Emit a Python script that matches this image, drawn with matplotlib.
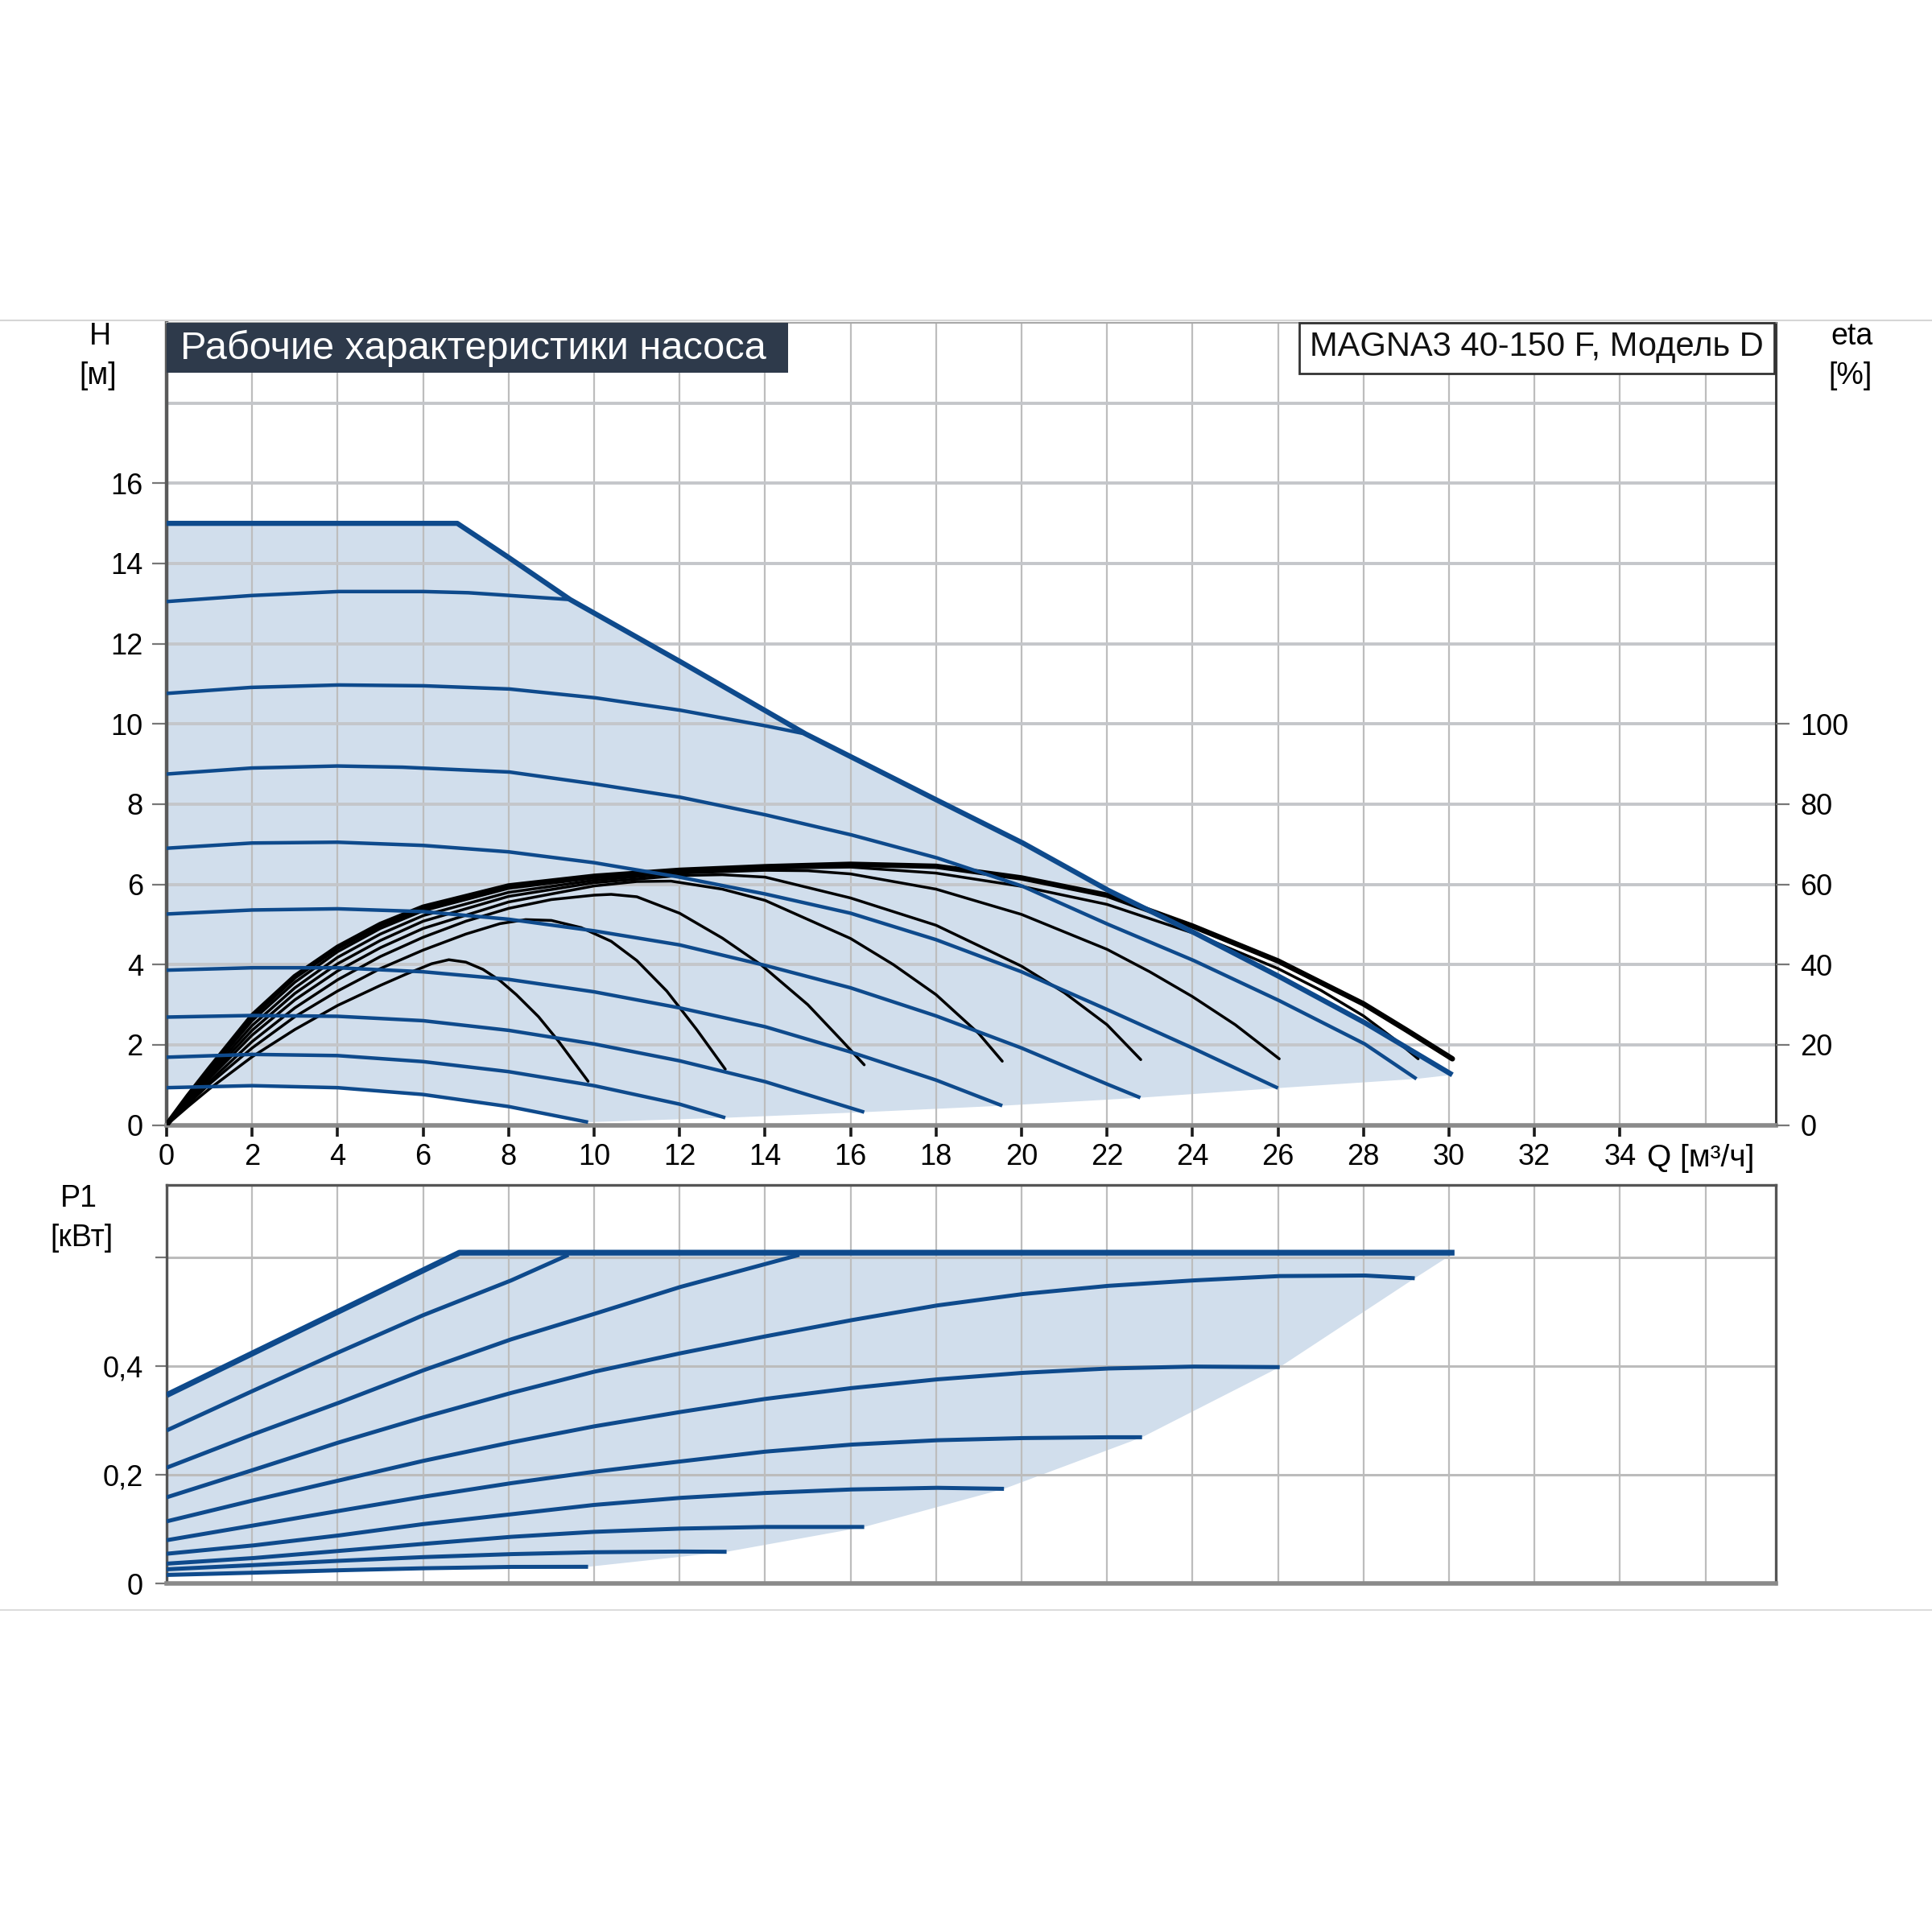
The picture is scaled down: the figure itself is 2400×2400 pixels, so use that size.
import matplotlib
matplotlib.use('Agg')
import matplotlib.pyplot as plt
from matplotlib.patches import Rectangle
from matplotlib.lines import Line2D

# ---------------- data ----------------
# Q-H curves: Q [m3/h], H [m]
q_c1 = [0, 6.8, 8.0, 9.44, 12.02, 14.95, 18.02, 20.03, 22.03, 24.03, 26.03, 28.03, 30.08]
h_c1 = [15.0, 15.0, 14.15, 13.1, 11.55, 9.75, 8.1, 7.03, 5.85, 4.8, 3.7, 2.55, 1.25]
q_c2 = [0, 1.98, 4.03, 6.01, 7.06, 8.05, 9.44]
h_c2 = [13.05, 13.2, 13.3, 13.3, 13.27, 13.2, 13.1]
q_c3 = [0, 1.98, 4.03, 6.01, 8.02, 10.03, 12.02, 14.02, 14.95]
h_c3 = [10.76, 10.91, 10.97, 10.95, 10.87, 10.65, 10.34, 9.95, 9.75]
q_c4 = [0, 2, 4, 5.52, 8.02, 10.03, 12.02, 14.02, 16.03, 18.02, 20.03, 22.03, 24.03, 26.03, 28.03, 29.24]
h_c4 = [8.75, 8.9, 8.95, 8.92, 8.8, 8.5, 8.17, 7.73, 7.23, 6.66, 5.95, 5.0, 4.1, 3.1, 2.02, 1.15]
q_c5 = [0, 2, 4, 6, 8, 10, 12, 14, 16, 18, 20, 22, 24, 26.0]
h_c5 = [6.9, 7.03, 7.05, 6.97, 6.81, 6.54, 6.18, 5.76, 5.28, 4.62, 3.82, 2.88, 1.92, 0.92]
q_c6 = [0, 2, 4, 6, 8, 10, 12, 14, 16, 18, 20, 22, 22.78]
h_c6 = [5.26, 5.36, 5.39, 5.32, 5.13, 4.84, 4.49, 3.98, 3.42, 2.72, 1.92, 1.02, 0.68]
q_c7 = [0, 2, 4, 6, 8, 10, 12, 14, 16, 18, 19.55]
h_c7 = [3.86, 3.92, 3.92, 3.82, 3.63, 3.32, 2.92, 2.45, 1.82, 1.12, 0.48]
q_c8 = [0, 2, 4, 6, 8, 10, 12, 14, 16.32]
h_c8 = [2.69, 2.73, 2.71, 2.6, 2.36, 2.02, 1.6, 1.08, 0.32]
q_c9 = [0, 2, 4, 6, 8, 10, 12, 13.07]
h_c9 = [1.69, 1.76, 1.73, 1.58, 1.33, 0.98, 0.52, 0.18]
q_c10 = [0, 2, 4, 6, 8, 9.86]
h_c10 = [0.93, 0.98, 0.93, 0.76, 0.46, 0.07]

# efficiency curves: Q [m3/h], eta [%]
q_e1 = [0, 0.5, 1, 2, 3, 4, 5, 6, 8, 10, 12, 14, 16, 18, 20, 22, 24, 26, 28, 29, 30.08]
e_e1 = [0, 7.2, 14, 27.2, 37, 44.3, 50, 54.3, 59.6, 62, 63.5, 64.4, 65, 64.5, 61.6, 57.3, 49.6, 40.9, 30.2, 23.7, 16.5]
q_e4 = [0, 0.5, 1, 2, 3, 4, 5, 6, 8, 10, 12, 14, 16, 18, 20, 22, 24, 26, 27, 28, 28.7, 29.28]
e_e4 = [0, 6.9, 13.4, 26, 35.6, 43.2, 49, 53.4, 59, 61.6, 63.2, 64, 64.3, 62.8, 59.5, 55, 47.9, 39, 33.6, 27.2, 21.6, 16.5]
q_e5 = [0, 0.5, 1, 2, 3, 4, 5, 6, 8, 10, 12, 14, 15, 16, 18, 20, 22, 23, 24, 25, 26.03]
e_e5 = [0, 6.6, 12.8, 24.8, 34.2, 41.8, 47.6, 52.2, 58, 61, 62.8, 63.5, 63.4, 62.6, 58.8, 52.5, 43.8, 38.2, 32, 25, 16.5]
q_e6 = [0, 0.5, 1, 2, 3, 4, 5, 6, 8, 10, 12, 13, 14, 16, 18, 20, 21, 22, 22.79]
e_e6 = [0, 6.3, 12.2, 23.6, 32.8, 40.2, 46, 50.8, 57, 60.4, 62.2, 62.4, 61.8, 56.6, 49.8, 39.6, 33, 25, 16.3]
q_e7 = [0, 0.5, 1, 2, 3, 4, 5, 6, 8, 10, 11, 11.8, 13, 14, 16, 17, 18, 19, 19.55]
e_e7 = [0, 6, 11.6, 22.4, 31.2, 38.4, 44.2, 49, 55.6, 59.6, 60.7, 60.8, 58.8, 56, 46.5, 40, 32.5, 22.8, 15.9]
q_e8 = [0, 0.5, 1, 2, 3, 4, 5, 6, 7, 8, 9, 10, 10.4, 11, 12, 13, 13.9, 15, 15.8, 16.32]
e_e8 = [0, 5.6, 10.8, 20.8, 29.2, 36.2, 42, 46.8, 50.8, 54, 56.2, 57.3, 57.5, 56.9, 52.8, 46.6, 40, 30, 21, 15]
q_e9 = [0, 0.5, 1, 2, 3, 4, 5, 6, 7, 7.8, 8.4, 9, 9.7, 10.4, 11, 11.7, 12.4, 13.07]
e_e9 = [0, 5.2, 10.2, 19.2, 27, 33.4, 39, 43.6, 47.6, 50.2, 51.2, 51, 49.2, 45.8, 41, 33.4, 23.8, 13.9]
q_e10 = [0, 0.5, 1, 2, 3, 4, 5, 5.6, 6.2, 6.6, 7.0, 7.4, 7.8, 8.18, 8.7, 9.16, 9.86]
e_e10 = [0, 4.6, 9, 17, 23.8, 29.8, 34.8, 37.6, 40.2, 41.2, 40.6, 38.8, 36, 32.5, 27, 21, 10.9]

# power curves: Q [m3/h], P1 [kW]
q_pA = [0, 6.85, 30.13]
p_pA = [0.347, 0.609, 0.609]
q_pB = [0, 2.05, 4.03, 6.0, 8.06, 9.4]
p_pB = [0.282, 0.356, 0.426, 0.494, 0.558, 0.605]
q_pC = [0, 2.05, 4.03, 6.0, 8.06, 10.0, 12.02, 14.0, 14.8]
p_pC = [0.2135, 0.2757, 0.333, 0.3925, 0.4496, 0.4963, 0.546, 0.588, 0.605]
q_pD = [0, 2.05, 4.03, 6.0, 8.06, 10.0, 12.02, 14.0, 16.03, 18.03, 20.04, 22.03, 24.03, 26.04, 28.04, 29.2]
p_pD = [0.159, 0.21, 0.26, 0.306, 0.351, 0.39, 0.424, 0.455, 0.485, 0.512, 0.533, 0.548, 0.558, 0.566, 0.567, 0.562]
q_pE = [0, 2.05, 4.03, 6.0, 8.06, 10.0, 12.02, 14.0, 16.03, 18.03, 20.04, 22.03, 24.03, 26.04]
p_pE = [0.1148, 0.1538, 0.19, 0.226, 0.26, 0.2895, 0.316, 0.34, 0.36, 0.376, 0.388, 0.396, 0.3995, 0.3985]
q_pF = [0, 2.05, 4.03, 6.0, 8.06, 10.0, 12.02, 14.0, 16.03, 18.03, 20.04, 22.03, 22.82]
p_pF = [0.0801, 0.1075, 0.134, 0.16, 0.185, 0.206, 0.225, 0.243, 0.256, 0.264, 0.268, 0.2695, 0.2695]
q_pG = [0, 2.05, 4.03, 6.0, 8.06, 10.0, 12.02, 14.0, 16.03, 18.03, 19.59]
p_pG = [0.0552, 0.0707, 0.0889, 0.1097, 0.1278, 0.145, 0.158, 0.167, 0.1735, 0.1765, 0.1746]
q_pH = [0, 2.05, 4.03, 6.0, 8.06, 10.0, 12.02, 14.0, 16.32]
p_pH = [0.037, 0.0474, 0.0604, 0.0733, 0.0863, 0.0955, 0.1015, 0.1045, 0.1045]
q_pI = [0, 2.05, 4.03, 6.0, 8.06, 10.0, 12.02, 13.1]
p_pI = [0.0266, 0.0344, 0.0422, 0.049, 0.0545, 0.058, 0.0593, 0.0588]
q_pJ = [0, 2.05, 4.03, 6.0, 8.06, 9.86]
p_pJ = [0.0162, 0.0204, 0.0248, 0.0285, 0.031, 0.0312]

# tick values / labels
q_ticks = list(range(0, 35, 2))
h_ticks = list(range(0, 17, 2))
eta_ticks = list(range(0, 101, 20))
p_ticks = [0, 0.2, 0.4, 0.6]
p_labels = ['0', '0,2', '0,4', '']
title_text = 'Рабочие характеристики насоса'
model_text = 'MAGNA3 40-150 F, Модель D'

# ---------------- style ----------------
plt.rcParams['font.family'] = ['Liberation Sans', 'DejaVu Sans']
BLUE = '#0e4a8c'
FILL = '#d1deec'
HGRID = '#c4c6ca'
VGRID = '#bdbdbd'
TICK_FS = 26
LAB_FS = 27

fig = plt.figure(figsize=(24, 24), dpi=100)


def rect(l, t, r, b):
    return [l / 2400, 1 - b / 2400, (r - l) / 2400, (b - t) / 2400]


R_UP = rect(207, 401, 2205.6, 1397.5)
R_LO = rect(207, 1472.4, 2205.6, 1967.4)
XMAX = 37.64

# ---------------- upper panel ----------------
ax1 = fig.add_axes(R_UP)
ax1.set_zorder(1)
ax1.set_xlim(0, XMAX)
ax1.set_ylim(0, 20)

# fill of the operating range
ends_q = [q_c4[-1], q_c5[-1], q_c6[-1], q_c7[-1], q_c8[-1], q_c9[-1]]
ends_h = [h_c4[-1], h_c5[-1], h_c6[-1], h_c7[-1], h_c8[-1], h_c9[-1]]
poly_q = q_c1 + ends_q + q_c10[::-1]
poly_h = h_c1 + ends_h + h_c10[::-1]
ax1.fill(poly_q, poly_h, color=FILL, lw=0, zorder=1)

for v in range(2, 37, 2):
    ax1.axvline(v, color=VGRID, lw=1.6, zorder=1.5)
for v in range(2, 19, 2):
    ax1.axhline(v, color=HGRID, lw=2.8, zorder=1.5)

ax1.set_xticks(q_ticks)
ax1.set_xticklabels([str(v) for v in q_ticks])
ax1.set_yticks(h_ticks)
ax1.set_yticklabels([str(v) for v in h_ticks])
ax1.tick_params(axis='x', direction='out', length=10, width=2.6, color='#1a1a1a',
                labelsize=TICK_FS, pad=6)
ax1.tick_params(axis='y', direction='out', length=13, width=1.6, color='#777777',
                labelsize=TICK_FS, pad=8)
ax1.spines['left'].set_color('#5a5a5a')
ax1.spines['left'].set_linewidth(3.2)
ax1.spines['bottom'].set_color('#8a8a8a')
ax1.spines['bottom'].set_linewidth(4)
ax1.spines['right'].set_color('#3a3a3a')
ax1.spines['right'].set_linewidth(2.2)
ax1.spines['top'].set_color('#a8a8a8')
ax1.spines['top'].set_linewidth(1.5)

# efficiency axis (right)
axe = fig.add_axes(R_UP, sharex=ax1)
axe.set_zorder(2)
axe.patch.set_visible(False)
axe.set_ylim(0, 200)
axe.yaxis.tick_right()
axe.set_yticks(eta_ticks)
axe.set_yticklabels([str(v) for v in eta_ticks])
axe.tick_params(axis='y', direction='out', length=12, width=1.6, color='#777777',
                labelsize=TICK_FS, pad=10)
axe.xaxis.set_visible(False)
for s in axe.spines.values():
    s.set_visible(False)

for q, e in [(q_e4, e_e4), (q_e5, e_e5), (q_e6, e_e6), (q_e7, e_e7),
             (q_e8, e_e8), (q_e9, e_e9), (q_e10, e_e10)]:
    axe.plot(q, e, color='black', lw=2.5, solid_capstyle='round',
             solid_joinstyle='round', zorder=3)
axe.plot(q_e1, e_e1, color='black', lw=4.8, solid_capstyle='round',
         solid_joinstyle='round', zorder=3)

# blue Q-H curves on top
axb = fig.add_axes(R_UP, sharex=ax1, sharey=ax1)
axb.set_zorder(3)
axb.patch.set_visible(False)
axb.axis('off')
for q, h in [(q_c2, h_c2), (q_c3, h_c3), (q_c4, h_c4), (q_c5, h_c5), (q_c6, h_c6),
             (q_c7, h_c7), (q_c8, h_c8), (q_c9, h_c9), (q_c10, h_c10)]:
    axb.plot(q, h, color=BLUE, lw=3.2, solid_capstyle='butt',
             solid_joinstyle='round', zorder=3)
axb.plot(q_c1, h_c1, color=BLUE, lw=4.6, solid_capstyle='butt',
         solid_joinstyle='round', zorder=4)

# ---------------- lower panel ----------------
ax2 = fig.add_axes(R_LO)
ax2.set_xlim(0, XMAX)
ax2.set_ylim(0, 0.733)

pend_q = [q_pD[-1], q_pE[-1], q_pF[-1], q_pG[-1], q_pH[-1], q_pI[-1]]
pend_p = [p_pD[-1], p_pE[-1], p_pF[-1], p_pG[-1], p_pH[-1], p_pI[-1]]
ppoly_q = q_pA + pend_q + q_pJ[::-1]
ppoly_p = p_pA + pend_p + p_pJ[::-1]
ax2.fill(ppoly_q, ppoly_p, color=FILL, lw=0, zorder=1)

for v in range(2, 37, 2):
    ax2.axvline(v, color=VGRID, lw=1.6, zorder=1.5)
for v in [0.2, 0.4, 0.6]:
    ax2.axhline(v, color='#bcbcbc', lw=2.2, zorder=1.5)

for q, p in [(q_pB, p_pB), (q_pC, p_pC), (q_pD, p_pD), (q_pE, p_pE), (q_pF, p_pF),
             (q_pG, p_pG), (q_pH, p_pH), (q_pI, p_pI), (q_pJ, p_pJ)]:
    ax2.plot(q, p, color=BLUE, lw=3.6, solid_capstyle='butt',
             solid_joinstyle='round', zorder=3)
ax2.plot(q_pA, p_pA, color=BLUE, lw=5.2, solid_capstyle='butt',
         solid_joinstyle='round', zorder=4)

ax2.set_xticks([])
ax2.set_yticks(p_ticks)
ax2.set_yticklabels(p_labels)
ax2.tick_params(axis='y', direction='out', length=10, width=1.6, color='#777777',
                labelsize=TICK_FS, pad=11)
for side in ['left', 'right', 'top']:
    ax2.spines[side].set_color('#555555')
    ax2.spines[side].set_linewidth(2.4)
ax2.spines['bottom'].set_color('#8a8a8a')
ax2.spines['bottom'].set_linewidth(4)

# ---------------- texts / decorations ----------------
def fx(px):
    return px / 2400


def fy(py):
    return 1 - py / 2400


fig.add_artist(Line2D([0, 1], [fy(398), fy(398)], transform=fig.transFigure,
                      color='#d6d6d6', lw=1.5))
fig.add_artist(Line2D([0, 1], [fy(2000), fy(2000)], transform=fig.transFigure,
                      color='#dcdcdc', lw=1.5))

fig.add_artist(Rectangle((fx(207), fy(463)), fx(979) - fx(207), fy(401) - fy(463),
                         transform=fig.transFigure, facecolor='#2e3a4b',
                         edgecolor='none', zorder=10))
fig.text(fx(224), fy(433), title_text, color='white', fontsize=35, ha='left',
         va='center', zorder=11)

fig.add_artist(Rectangle((fx(1614), fy(464)), fx(2204) - fx(1614), fy(401) - fy(464),
                         transform=fig.transFigure, facecolor='white',
                         edgecolor='#333333', lw=2, zorder=10))
fig.text(fx(1627), fy(431), model_text, color='#111111', fontsize=30, ha='left',
         va='center', zorder=11)

fig.text(fx(124), fy(418), 'H', fontsize=LAB_FS, ha='center', va='center')
fig.text(fx(122), fy(467), '[м]', fontsize=LAB_FS, ha='center', va='center')
fig.text(fx(2300), fy(418), 'eta', fontsize=LAB_FS, ha='center', va='center')
fig.text(fx(2299), fy(467), '[%]', fontsize=LAB_FS, ha='center', va='center')
fig.text(fx(98), fy(1489), 'P1', fontsize=LAB_FS, ha='center', va='center')
fig.text(fx(101), fy(1538), '[кВт]', fontsize=LAB_FS, ha='center', va='center')
fig.text(fx(2046), fy(1439), 'Q [м³/ч]', fontsize=LAB_FS + 1, ha='left', va='center')

fig.savefig('out.png', dpi=100, facecolor='white')
